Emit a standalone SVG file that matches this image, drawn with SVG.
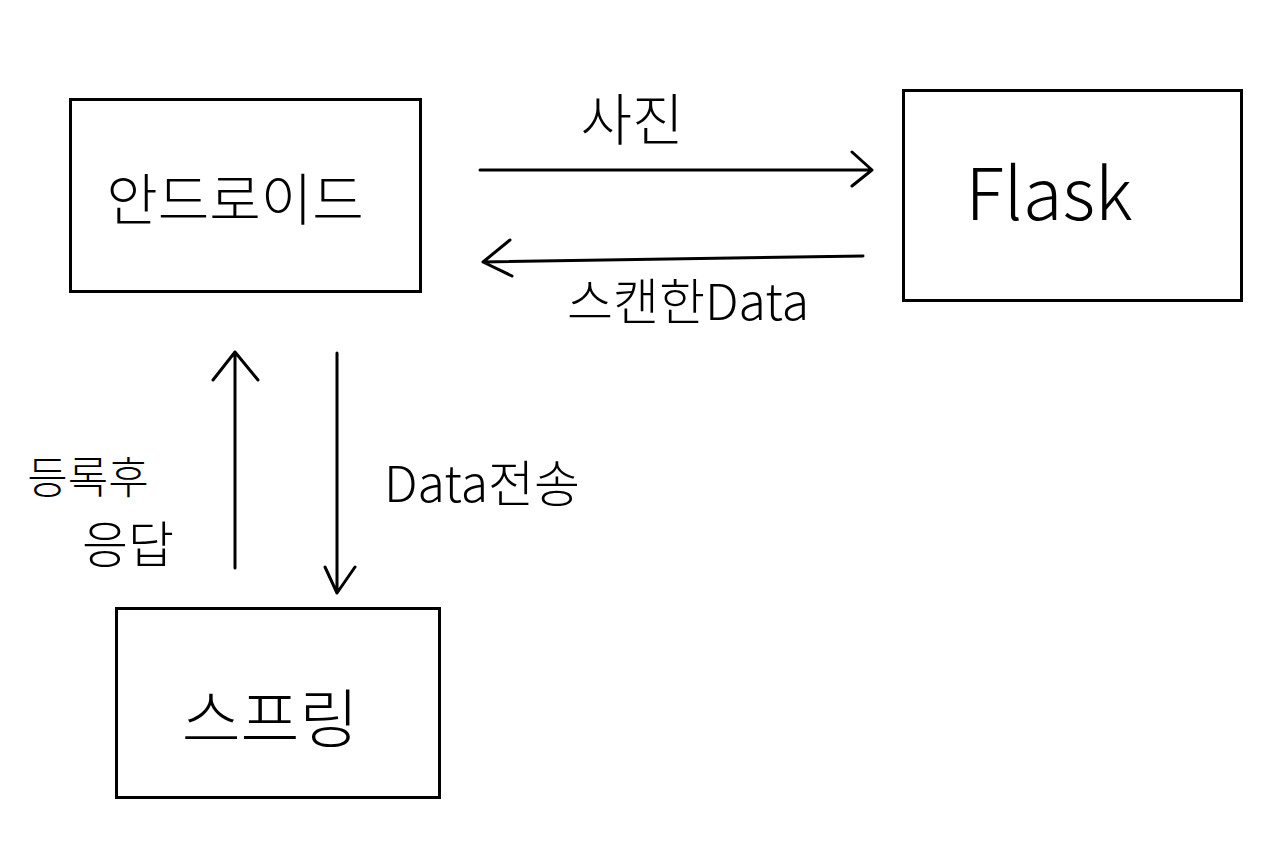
<svg xmlns="http://www.w3.org/2000/svg" width="1280" height="868" viewBox="0 0 1280 868">
<style>
.box{fill:none;stroke:#000;stroke-width:3}
.ln{fill:none;stroke:#000;stroke-width:3;stroke-linecap:round;stroke-linejoin:round}
.t{font-family:"Noto Sans CJK KR","Noto Sans",sans-serif;fill:#000;font-weight:300}
</style>
<rect width="1280" height="868" fill="#fff"/>
<g id="android">
<rect class="box" x="70.500" y="99.500" width="350" height="192"/>
<text class="t" x="235" y="220" font-size="56" text-anchor="middle">안드로이드</text>
</g>
<g id="flask">
<rect class="box" x="903.500" y="90.500" width="338" height="210"/>
<text class="t" x="1049" y="220" font-size="72" text-anchor="middle" font-family="Liberation Sans, sans-serif">Flask</text>
</g>
<g id="spring">
<rect class="box" x="116.500" y="608.500" width="323" height="189"/>
<text class="t" x="270" y="742" font-size="64" text-anchor="middle">스프링</text>
</g>
<g id="connectors">
<path class="ln" d="M480 170 L872 170 M852 152 L872 170 L852 186"/>
<path class="ln" d="M863 256 L483 262 M510 240 L483 262 L512 276"/>
<path class="ln" d="M235 568 L235 352 M213 380 L235 352 L258 380"/>
<path class="ln" d="M337 353 L337 593 M325 567 L337 593 L355 567"/>
<text class="t" x="632" y="140" font-size="56" text-anchor="middle">사진</text>
<text class="t" x="688" y="320" font-size="50" text-anchor="middle">스캔한Data</text>
<text class="t" x="482" y="502" font-size="50" text-anchor="middle">Data전송</text>
<text class="t" x="88" y="494" font-size="44" text-anchor="middle">등록후</text>
<text class="t" x="128" y="563" font-size="50" text-anchor="middle">응답</text>
</g>
</svg>
